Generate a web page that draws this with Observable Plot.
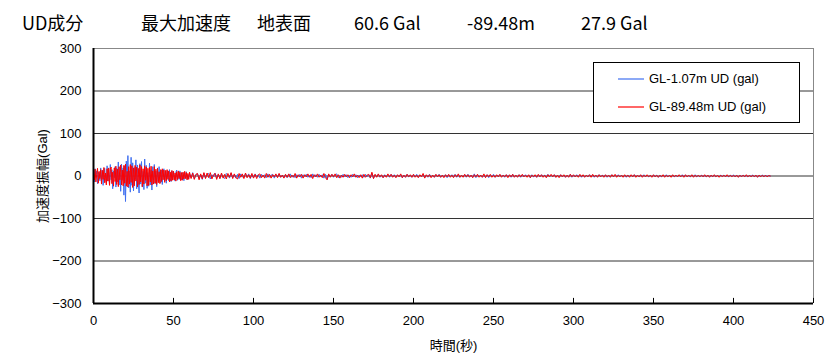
<!DOCTYPE html>
<html>
<head>
<meta charset="utf-8">
<script src="https://cdn.jsdelivr.net/npm/d3@7"></script>
<script src="https://cdn.jsdelivr.net/npm/@observablehq/plot@0.6"></script>
<style>
  body { margin: 0; background: #fff; }
  #wrap { position: relative; width: 828px; height: 354px; font-family: "Liberation Sans", "Noto Sans CJK JP", sans-serif; }
  .ttl { position: absolute; top: 12px; font-size: 18px; line-height: 20px; font-family: "Noto Sans CJK JP", sans-serif; color: #000; white-space: nowrap; }
  #chart { position: absolute; left: 0; top: 40px; }
  #legend { position: absolute; left: 593px; top: 62px; width: 205px; height: 59px; border: 1px solid #000; background: #fff; }
  #legend .row { position: absolute; left: 0; width: 100%; height: 14px; font-size: 13px; line-height: 14px; white-space: nowrap; }
  #legend svg { position: absolute; left: 24px; top: 5px; }
  #legend .tx { position: absolute; left: 55px; top: 0; }
</style>
</head>
<body>
<div id="wrap">
  <div class="ttl" style="left:22px">UD成分</div>
  <div class="ttl" style="left:141px">最大加速度</div>
  <div class="ttl" style="left:257px">地表面</div>
  <div class="ttl" style="left:354px">60.6 Gal</div>
  <div class="ttl" style="left:467px">-89.48m</div>
  <div class="ttl" style="left:581px">27.9 Gal</div>
  <div id="chart"></div>
  <div id="legend"></div>
</div>
<script>
// Series names and colours
const seriesNames = ["GL-1.07m UD (gal)", "GL-89.48m UD (gal)"];
const seriesColors = ["#3f6ff0", "#ff0000"];

// Strong-motion part: samples every 0.5 s from 0 s to 59.5 s
const earlyStep = 0.5;
const surfaceEarly = [
  6,-14,17,-3,12,-18,9,2,-11,19,
  -8,14,-22,5,18,-6,-15,24,-12,8,
  -20,27,-9,15,-30,12,-4,22,-26,18,
  -14,33,-21,6,-36,28,-10,19,-45,24,
  -60,35,-18,48,-28,12,-38,44,-22,31,
  -35,20,-8,38,-30,26,-14,-40,29,-19,
  34,-26,11,-32,40,-17,25,-29,8,-24,
  30,-21,14,-33,22,-9,27,-18,12,-25,
  19,-13,22,-8,-16,14,-20,9,17,-12,
  10,-17,13,4,-11,15,-7,-13,12,-9,
  11,-6,-12,9,14,-10,5,-8,12,-7,
  -9,8,4,-11,7,-5,10,-8,3,-6
];
const deepEarly = [
  12,-9,16,-14,4,18,-17,11,-6,15,
  -19,13,-8,20,-16,7,-21,17,-12,19,
  -22,15,21,-18,9,-24,19,-13,23,-20,
  16,-25,22,-9,26,-21,14,-23,25,-17,
  28,-24,11,-26,22,-19,27,-15,24,-27,
  19,-23,25,-12,21,-26,18,-20,26,-14,
  22,-25,17,-19,24,-10,21,-23,18,-22,
  20,-14,23,-21,12,-19,22,-17,16,-20,
  18,-16,10,-18,15,-13,17,-9,14,-15,
  13,-11,15,-8,12,-14,9,-12,13,-10,
  11,-9,7,-12,10,-8,12,-6,9,-11,
  8,-10,9,-7,11,-6,8,-9,6,-8
];

// Coda: samples every 1 s from 60 s to 423 s
const lateStart = 60;
const lateStep = 1;
const surfaceLate = [
  6,-4,8,-7,3,5,-6,2,-8,7,
  -5,4,6,-7,3,-2,7,-5,4,-6,
  5,-3,-6,6,2,-5,7,-4,3,-5,
  4,-6,5,-2,-4,6,-3,5,-6,3,
  -4,5,-2,3,-5,4,-1,3,-4,5,
  -3,2,4,-5,3,-2,5,-3,2,-4,
  3,-4,1,5,-3,2,-4,3,-2,4,
  -5,3,-1,4,-3,2,-4,5,-2,3,
  -3,4,-2,3,-5,4,-8,3,-2,4,
  -3,2,5,-4,1,-3,4,-2,3,-4,
  2,-3,4,-2,3,-4,2,-1,3,-3,
  4,-2,3,-5,7,-6,3,-2,4,-3,
  2,-4,3,-1,2,-3,4,-2,3,-3,
  2,-1,3,-4,2,-3,4,-2,1,-3,
  3,-2,4,-3,2,-1,3,-4,2,-3,
  4,-2,1,-3,3,-2,4,-3,2,-2,
  3,-4,2,-1,3,-2,4,-3,2,-3,
  1,-2,3,-3,4,-2,2,-3,5,-4,
  3,-2,2,-3,1,-2,3,-4,2,-2,
  4,-3,2,-2,3,-1,2,-3,3,-2,
  2,-3,4,-2,1,-2,3,-3,2,-1,
  3,-2,2,-4,3,-2,1,-3,2,-2,
  3,-1,2,-3,4,-2,2,-2,3,-3,
  1,-2,3,-2,2,-3,1,-2,4,-3,
  2,-2,3,-1,2,-3,2,-2,1,-2,
  3,-2,2,-3,1,-2,3,-2,2,-1,
  2,-3,1,-2,3,-2,2,-1,3,-2,
  2,-2,1,-3,2,-1,2,-2,3,-2,
  1,-2,2,-1,3,-2,2,-2,1,-2,
  2,-1,2,-3,1,-2,2,-1,3,-2,
  1,-2,2,-2,1,-1,2,-2,3,-1,
  2,-2,1,-2,2,-1,3,-2,1,-2,
  2,-1,1,-2,2,-2,1,-1,2,-2,
  1,-2,2,-1,2,-1,1,-2,2,-1,
  2,-1,1,-2,1,-1,2,-1,1,-2,
  1,-1,2,-1,1,-2,1,-1,2,-1,
  1,-1,1,0
];
const deepLate = [
  9,-6,7,-8,4,6,-9,5,-7,8,
  -6,7,-4,8,-7,3,6,-8,5,-6,
  7,-5,4,-7,6,-3,8,-6,5,-4,
  -7,6,-3,5,-6,7,-4,3,-5,6,
  -5,4,-6,3,5,-4,2,-5,6,-3,
  4,-5,3,-2,5,-4,6,-3,2,-5,
  4,-3,5,-4,2,-3,6,-5,3,-2,
  4,-5,3,-2,5,-3,4,-6,3,-2,
  5,-3,2,-4,6,-4,-9,5,-3,4,
  -2,5,-4,3,-5,2,-3,4,-2,3,
  -4,3,-2,5,-3,2,-4,3,-5,4,
  -3,2,4,-4,9,-6,4,-3,5,-2,
  3,-4,2,-3,5,-2,4,-3,2,-4,
  3,-2,5,-4,2,-3,4,-2,3,-3,
  4,-3,2,-4,3,-2,6,-5,3,-2,
  3,-4,2,-3,4,-2,3,-3,2,-4,
  3,-2,4,-3,2,-4,3,-2,5,-3,
  2,-3,4,-2,3,-3,2,-4,3,-2,
  4,-3,2,-3,5,-4,3,-2,4,-3,
  2,-3,3,-2,4,-3,2,-2,3,-4,
  3,-2,4,-3,2,-3,3,-2,4,-2,
  2,-3,3,-4,2,-2,3,-3,4,-2,
  3,-3,2,-4,3,-2,4,-2,3,-3,
  2,-4,3,-2,3,-3,2,-3,4,-2,
  3,-2,2,-3,4,-2,3,-3,2,-2,
  3,-3,4,-2,2,-3,3,-2,2,-3,
  3,-2,2,-3,3,-2,4,-3,2,-2,
  2,-3,3,-2,2,-3,3,-2,3,-3,
  2,-2,3,-3,2,-2,3,-2,2,-3,
  3,-2,2,-3,2,-2,3,-3,2,-2,
  2,-3,3,-2,2,-2,3,-2,2,-3,
  3,-2,2,-2,3,-3,2,-2,2,-2,
  2,-2,3,-2,2,-3,2,-2,3,-2,
  2,-3,2,-2,2,-2,3,-2,2,-2,
  2,-2,2,-3,2,-2,2,-2,3,-2,
  2,-2,2,-2,2,-3,2,-2,2,-2,
  2,-2,1,0
];

// Axis ticks
const xTicks = [0, 50, 100, 150, 200, 250, 300, 350, 400, 450];
const yTicks = [-300, -200, -100, 0, 100, 200, 300];

function toRecords(early, late) {
  return early.map((v, i) => ({t: i * earlyStep, a: v}))
    .concat(late.map((v, i) => ({t: lateStart + i * lateStep, a: v})));
}
const surface = toRecords(surfaceEarly, surfaceLate);
const deep = toRecords(deepEarly, deepLate);

const font = '"Liberation Sans", "Noto Sans CJK JP", sans-serif';

const chart = Plot.plot({
  width: 828,
  height: 314,
  marginTop: 8,
  marginBottom: 51,
  marginLeft: 93,
  marginRight: 15,
  style: {fontFamily: font, fontSize: "13px", color: "#000", background: "transparent"},
  x: {domain: [0, 450], ticks: xTicks},
  y: {domain: [-300, 300], ticks: yTicks},
  marks: [
    Plot.ruleY(yTicks.filter(d => d > -300 && d < 300), {stroke: "#333", strokeWidth: 1}),
    Plot.ruleY([300], {stroke: "#888", strokeWidth: 1}),
    Plot.ruleX([450], {stroke: "#888", strokeWidth: 1}),
    Plot.line(surface, {x: "t", y: "a", stroke: seriesColors[0], strokeWidth: 1}),
    Plot.line(deep, {x: "t", y: "a", stroke: seriesColors[1], strokeWidth: 1}),
    Plot.ruleX(xTicks, {y1: -300, y2: -288, stroke: "#000", strokeWidth: 1}),
    Plot.ruleX([0], {stroke: "#000", strokeWidth: 2}),
    Plot.ruleY([-300], {stroke: "#000", strokeWidth: 2}),
    Plot.axisX({ticks: xTicks, tickSize: 0, tickPadding: 12, fontSize: 13,
      label: "時間(秒)", labelAnchor: "center", labelArrow: "none", labelOffset: 46}),
    Plot.axisY({ticks: yTicks, tickSize: 0, tickPadding: 12, fontSize: 13,
      label: "加速度振幅(Gal)", labelAnchor: "center", labelArrow: "none", labelOffset: 56})
  ]
});
document.getElementById("chart").appendChild(chart);

// Legend box: a short coloured stroke and the series name per row
const legend = document.getElementById("legend");
const svgNS = "http://www.w3.org/2000/svg";
seriesNames.forEach((name, i) => {
  const row = document.createElement("div");
  row.className = "row";
  row.style.top = (i === 0 ? 9 : 37) + "px";
  const sw = document.createElementNS(svgNS, "svg");
  sw.setAttribute("width", "26");
  sw.setAttribute("height", "4");
  const ln = document.createElementNS(svgNS, "line");
  ln.setAttribute("x1", "0");
  ln.setAttribute("x2", "26");
  ln.setAttribute("y1", "2");
  ln.setAttribute("y2", "2");
  ln.setAttribute("stroke", seriesColors[i]);
  ln.setAttribute("stroke-width", "1.2");
  sw.appendChild(ln);
  const tx = document.createElement("div");
  tx.className = "tx";
  tx.textContent = name;
  row.appendChild(sw);
  row.appendChild(tx);
  legend.appendChild(row);
});
</script>
</body>
</html>
